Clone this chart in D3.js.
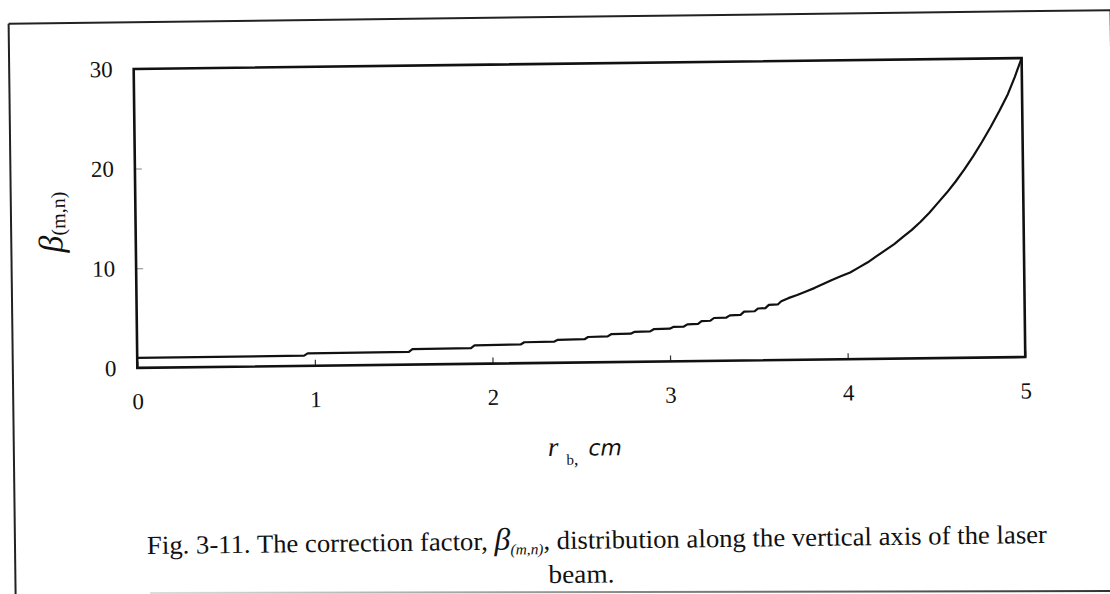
<!DOCTYPE html>
<html>
<head>
<meta charset="utf-8">
<script src="https://cdn.jsdelivr.net/npm/d3@7"></script>
<style>
  html, body { margin: 0; padding: 0; background: #fff; }
  svg { display: block; }
  text { fill: #111; }
</style>
</head>
<body>
<svg id="chart" width="1110" height="594"></svg>
<script>
// Beam radius r_b (cm) and correction factor beta(m,n)
const rb = [0, 0.94, 0.96, 1.53, 1.55, 1.88, 1.90, 2.16, 2.18, 2.35, 2.37, 2.52, 2.54,
  2.65, 2.67, 2.78, 2.80, 2.89, 2.91, 3.00, 3.02, 3.08, 3.10, 3.16, 3.18, 3.23, 3.25,
  3.32, 3.34, 3.40, 3.42, 3.48, 3.50, 3.54, 3.56, 3.61, 3.63,
  3.67, 3.72, 3.77, 3.82, 3.87, 3.92, 3.97, 4.02, 4.07, 4.12, 4.17, 4.22, 4.27, 4.32,
  4.37, 4.42, 4.47, 4.52, 4.57, 4.62, 4.67, 4.72, 4.77, 4.82, 4.87, 4.92, 4.96, 5.0];
const beta = [1.0, 1.03, 1.25, 1.28, 1.55, 1.58, 1.85, 1.88, 2.1, 2.13, 2.3, 2.33, 2.55,
  2.58, 2.8, 2.83, 3.0, 3.03, 3.25, 3.28, 3.45, 3.48, 3.7, 3.73, 4.0, 4.03, 4.3,
  4.33, 4.55, 4.58, 4.9, 4.93, 5.2, 5.23, 5.55, 5.58, 5.9,
  6.2, 6.5, 6.85, 7.2, 7.6, 8.0, 8.35, 8.7, 9.2, 9.7, 10.3, 10.9, 11.5, 12.2,
  12.9, 13.7, 14.6, 15.6, 16.6, 17.7, 18.9, 20.2, 21.6, 23.1, 24.7, 26.4, 28.1, 30.0];

const xTickValues = [0, 1, 2, 3, 4, 5];
const yTickValues = [0, 10, 20, 30];

const svg = d3.select("#chart");
const W = 1110, H = 594;
const serif = "'Liberation Serif', 'Times New Roman', serif";

// the whole page content sits slightly tilted
const page = svg.append("g")
  .attr("transform", `rotate(-0.7, ${W / 2}, ${H / 2})`);

// outer figure frame
const frame = page.append("g").attr("stroke", "#222").attr("stroke-width", 2).attr("fill", "none");
frame.append("line").attr("x1", 12).attr("y1", 17).attr("x2", 1114).attr("y2", 17);
frame.append("line").attr("x1", 12).attr("y1", 17).attr("x2", 12).attr("y2", 640);
frame.append("line").attr("x1", 1114).attr("y1", 17).attr("x2", 1114).attr("y2", 640);

const plot = { left: 136.5, right: 1024.5, top: 63.8, bottom: 362.8 };
const x = d3.scaleLinear().domain([0, 5]).range([plot.left, plot.right]);
const y = d3.scaleLinear().domain([0, 30]).range([plot.bottom, plot.top]);

// x axis: inner ticks and labels
const xAxis = d3.axisBottom(x).tickValues(xTickValues).tickSize(-6).tickPadding(25)
  .tickFormat(d3.format("d"));
const gx = page.append("g").attr("transform", `translate(0,${plot.bottom})`).call(xAxis);
gx.select(".domain").remove();
gx.selectAll(".tick line").attr("stroke", "#333").attr("stroke-width", 1.2);
gx.selectAll(".tick text")
  .attr("font-family", serif).attr("font-size", 23).attr("fill", "#111");

// y axis: inner ticks and labels
const yAxis = d3.axisLeft(y).tickValues(yTickValues).tickSize(-7).tickPadding(21)
  .tickFormat(d3.format("d"));
const gy = page.append("g").attr("transform", `translate(${plot.left},0)`).call(yAxis);
gy.select(".domain").remove();
gy.selectAll(".tick line").attr("stroke", "#888").attr("stroke-width", 1);
gy.selectAll(".tick text")
  .attr("font-family", serif).attr("font-size", 23).attr("fill", "#111");

// plot area border
page.append("rect")
  .attr("x", plot.left).attr("y", plot.top)
  .attr("width", plot.right - plot.left).attr("height", plot.bottom - plot.top)
  .attr("fill", "none").attr("stroke", "#111").attr("stroke-width", 2.6);

// correction factor curve
const pts = rb.map((r, i) => [r, beta[i]]);
const line = d3.line().x(d => x(d[0])).y(d => y(d[1])).curve(d3.curveLinear);
page.append("path")
  .datum(pts)
  .attr("d", line)
  .attr("fill", "none")
  .attr("stroke", "#111")
  .attr("stroke-width", 2.2)
  .attr("stroke-linejoin", "round");

// y axis title: beta(m,n)
const yTitle = page.append("text")
  .attr("transform", "translate(63,216) rotate(-90)")
  .attr("text-anchor", "middle")
  .attr("font-family", serif);
yTitle.append("tspan").attr("font-size", 34).attr("font-style", "italic").text("β");
yTitle.append("tspan").attr("font-size", 20).attr("dy", 3).text("(m,n)");

// x axis title: r_b, cm
const xTitle = page.append("text")
  .attr("x", 546).attr("y", 456)
  .attr("font-family", serif);
xTitle.append("tspan").attr("font-style", "italic").attr("font-size", 27).text("r");
xTitle.append("tspan").attr("font-size", 15).attr("dx", 8).attr("dy", 9).text("b");
xTitle.append("tspan").attr("font-size", 18).text(",");
xTitle.append("tspan").attr("font-family", "'DejaVu Sans', sans-serif")
  .attr("font-style", "italic").attr("font-size", 22).attr("dx", 10).attr("dy", -9).text("cm");

// figure caption
const cap = page.append("text")
  .attr("x", 144).attr("y", 549)
  .attr("font-family", serif)
  .attr("font-size", 26)
  .attr("textLength", 900).attr("lengthAdjust", "spacingAndGlyphs");
cap.append("tspan").text("Fig. 3-11. The correction factor,  ");
cap.append("tspan").attr("font-style", "italic").attr("font-size", 31).text("β");
cap.append("tspan").attr("font-style", "italic").attr("font-size", 15).attr("dy", 5).text("(m,n)");
cap.append("tspan").attr("dy", -5).text(", distribution along the vertical axis of the laser");

page.append("text")
  .attr("x", 578).attr("y", 583)
  .attr("text-anchor", "middle")
  .attr("font-family", serif)
  .attr("font-size", 26)
  .attr("textLength", 66).attr("lengthAdjust", "spacingAndGlyphs")
  .text("beam.");

// bottom edge of the figure frame
const grad = svg.append("defs").append("linearGradient").attr("id", "edge");
grad.append("stop").attr("offset", "0%").attr("stop-color", "#ddd");
grad.append("stop").attr("offset", "100%").attr("stop-color", "#333");
svg.append("line")
  .attr("x1", 150).attr("y1", 593).attr("x2", 1110).attr("y2", 591)
  .attr("stroke", "url(#edge)").attr("stroke-width", 2);
</script>
</body>
</html>
